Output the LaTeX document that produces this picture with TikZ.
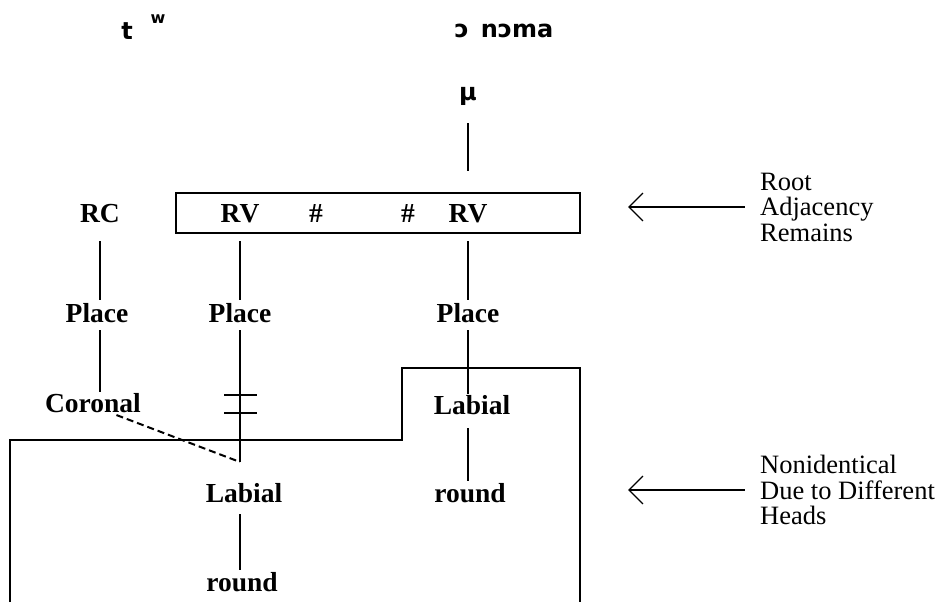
\documentclass[tikz,border=0pt]{standalone}
\usepackage{fontspec}
\setmainfont{Liberation Serif}
\newfontfamily\ipafont{DejaVu Sans}
\usetikzlibrary{arrows.meta}

\tikzset{
  lbl/.style={font=\bfseries\fontsize{27.5}{30}\selectfont, inner sep=0pt,
    text height=18pt, text depth=0pt},
  seg/.style={font=\ipafont\bfseries\fontsize{24}{26}\selectfont, inner sep=0pt},
  note/.style={font=\fontsize{26.5}{25.5}\selectfont, align=left, anchor=west, inner sep=0pt},
  assoc/.style={line width=2.8pt},
  boxline/.style={line width=2.8pt},
  delink/.style={line width=2pt, dashed, dash pattern=on 7pt off 4pt},
  pointer/.style={line width=1.3pt, {Straight Barb[length=14pt,width=28pt]}-}
}

\begin{document}
\begin{tikzpicture}[x=1pt,y=-1pt]
\useasboundingbox (0,0) rectangle (941,602);

% segments
\node[seg] (t) at (127,31) {t};
\node[seg, font=\ipafont\bfseries\fontsize{16}{16}\selectfont] (w) at (158,19) {w};
\node[seg] (vowels) at (504,31) {ɔ\hspace{12pt}nɔma};
\node[seg] (mu) at (468,96) {μ};

% roots
\draw[boxline] (176,193) rectangle (580,233);
\node[lbl] (RC) at (100,213) {RC};
\node[lbl] (RVa) at (240,213) {RV};
\node[lbl] (hasha) at (316,213) {\#};
\node[lbl] (hashb) at (408,213) {\#};
\node[lbl] (RVb) at (468,213) {RV};

% place nodes
\node[lbl] (PlaceC) at (97,313) {Place};
\node[lbl] (PlaceA) at (240,313) {Place};
\node[lbl] (PlaceB) at (468,313) {Place};

\node[lbl] (Coronal) at (93,403) {Coronal};
\node[lbl] (LabB) at (472,405) {Labial};
\node[lbl] (roundB) at (470,493) {round};
\node[lbl] (LabA) at (244,493) {Labial};
\node[lbl] (roundA) at (242,582) {round};
\coordinate (cut) at (240,462);

% tiers
\draw[boxline] (10,602) -- (10,440) -- (402,440) -- (402,368) -- (580,368) -- (580,602);

% association lines
\draw[assoc, shorten <=18pt, shorten >=33pt] (mu) -- (RVb);
\draw[assoc, shorten <=19pt, shorten >=4pt] (RC.south) -- (RC.south |- PlaceC.north);
\draw[assoc, shorten <=19pt, shorten >=4pt] (RVa.south) -- (PlaceA.north);
\draw[assoc, shorten <=19pt, shorten >=4pt] (RVb.south) -- (PlaceB.north);
\draw[assoc, shorten <=8pt, shorten >=2pt] (RC.south |- PlaceC.south) -- (RC.south |- Coronal.north);
\draw[assoc, shorten <=8pt] (PlaceA.south) -- (cut);
\draw[assoc, shorten <=8pt, shorten >=2pt] (PlaceB.south) -- (PlaceB.south |- LabB.north);
\draw[assoc, shorten <=14pt, shorten >=3pt] (PlaceB.south |- LabB.south) -- (PlaceB.south |- roundB.north);
\draw[assoc, shorten <=12pt, shorten >=3pt] (cut |- LabA.south) -- (cut |- roundA.north);
\draw[delink, shorten <=8pt] ([xshift=16pt]Coronal.south) -- (cut);
\foreach \y in {395,413}
  \draw[assoc] (224,\y) -- (257,\y);

% notes
\node[note] (adj) at (760,207) {Root\\Adjacency\\Remains};
\node[note] (nonid) at (760,490) {Nonidentical\\Due to Different\\Heads};
\draw[pointer] (628,207) -- (745,207);
\draw[pointer] (628,490) -- (745,490);
\end{tikzpicture}
\end{document}
